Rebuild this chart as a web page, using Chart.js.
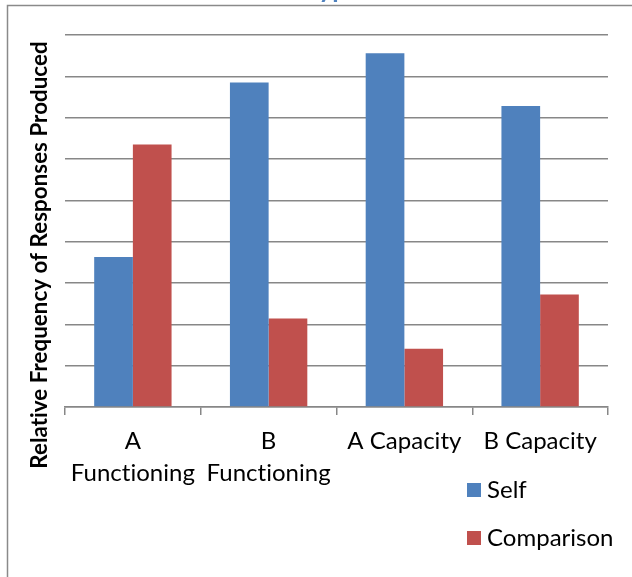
<!DOCTYPE html>
<html>
<head>
<meta charset="utf-8">
<script src="https://cdn.jsdelivr.net/npm/chart.js@4"></script>
<style>
  html, body { margin: 0; padding: 0; background: #fff; }
  #wrap { width: 632px; height: 577px; position: relative; }
</style>
</head>
<body>
<div id="wrap"><canvas id="c" width="632" height="577"></canvas></div>
<script>
const categories = [["A", "Functioning"], ["B", "Functioning"], "A Capacity", "B Capacity"];
const selfValues = [3.63, 7.85, 8.56, 7.28];
const comparisonValues = [6.35, 2.14, 1.41, 2.72];
const seriesNames = ["Self", "Comparison"];
const titleText = "Type";
const yTitleText = "Relative Frequency of Responses Produced";

const BLUE = "#4F81BD";
const RED = "#C0504D";
const GRID = "#878787";
const FONT = "Lato";

const noLigaturePlugin = {
  id: "noLiga",
  beforeDraw(chart) {
    if ("letterSpacing" in chart.ctx) chart.ctx.letterSpacing = "0.01px";
  }
};

const framePlugin = {
  id: "frame",
  afterDraw(chart) {
    const ctx = chart.ctx;
    ctx.save();
    if ("letterSpacing" in ctx) ctx.letterSpacing = "0.01px";
    // outer frame
    ctx.strokeStyle = "#8a8a8a";
    ctx.lineWidth = 1.5;
    ctx.strokeRect(7.5, 5.5, 800, 800);
    // clipped title (only descenders visible above frame)
    ctx.fillStyle = BLUE;
    ctx.font = "bold 26px " + FONT;
    ctx.textAlign = "center";
    ctx.textBaseline = "alphabetic";
    ctx.fillText(titleText, 333, -2);
    // y axis title
    ctx.save();
    ctx.translate(40, 255);
    ctx.rotate(-Math.PI / 2);
    ctx.fillStyle = "#000";
    ctx.font = "bold 22.4px " + FONT;
    ctx.textAlign = "center";
    ctx.textBaseline = "middle";
    ctx.fillText(yTitleText, 0, 0);
    ctx.restore();
    // legend
    chart.data.datasets.forEach((ds, i) => {
      const cy = 490 + i * 48;
      ctx.fillStyle = ds.backgroundColor;
      ctx.fillRect(467, cy - 7, 14, 14);
      ctx.fillStyle = "#000";
      ctx.font = "24px " + FONT;
      ctx.textAlign = "left";
      ctx.textBaseline = "middle";
      ctx.fillText(ds.label, 487, cy);
    });
    ctx.restore();
  }
};

new Chart(document.getElementById("c"), {
  type: "bar",
  data: {
    labels: categories,
    datasets: [
      { label: seriesNames[0], data: selfValues, backgroundColor: BLUE },
      { label: seriesNames[1], data: comparisonValues, backgroundColor: RED }
    ]
  },
  options: {
    responsive: false,
    animation: false,
    devicePixelRatio: 1,
    layout: { padding: { left: 65, right: 24, top: 35, bottom: 78 } },
    datasets: { bar: { categoryPercentage: 0.57, barPercentage: 1.0 } },
    plugins: {
      legend: { display: false },
      tooltip: { enabled: false },
      title: { display: false }
    },
    scales: {
      x: {
        grid: { display: true, drawOnChartArea: false, drawTicks: true, tickLength: 8, color: GRID, lineWidth: 1.5 },
        border: { display: true, color: GRID, width: 1.5 },
        ticks: { color: "#000", font: { family: FONT, size: 24, lineHeight: 1.333 }, padding: 10, maxRotation: 0, autoSkip: false }
      },
      y: {
        min: 0,
        max: 9,
        ticks: { display: false, stepSize: 1 },
        grid: { color: GRID, lineWidth: 1.5, drawTicks: false },
        border: { display: false }
      }
    }
  },
  plugins: [noLigaturePlugin, framePlugin]
});
</script>
</body>
</html>
